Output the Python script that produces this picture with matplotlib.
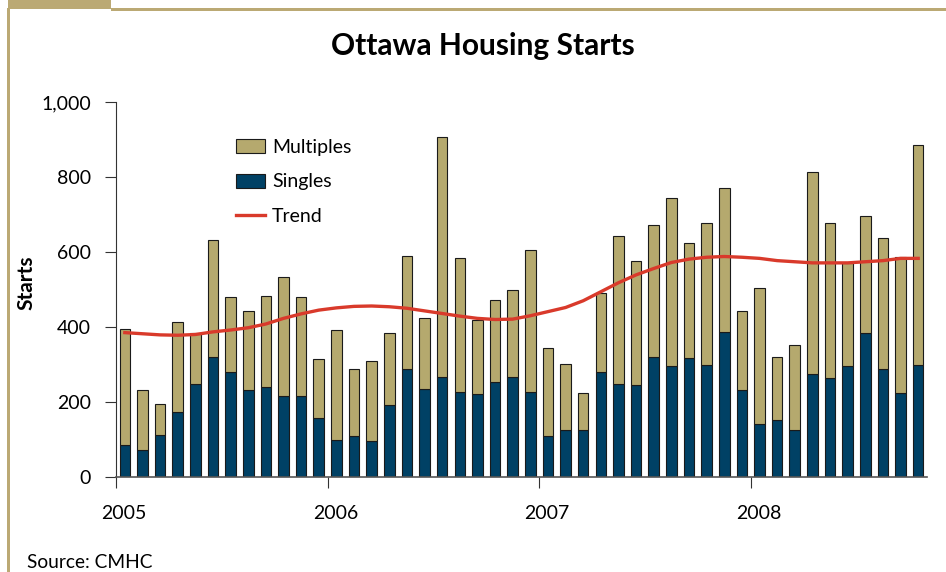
import matplotlib
matplotlib.use("Agg")
import matplotlib.pyplot as plt
from matplotlib.patches import Rectangle
from matplotlib.lines import Line2D
import matplotlib.transforms as mtransforms
import numpy as np

plt.rcParams['font.family'] = ['Lato', 'DejaVu Sans']

# Monthly data, Jan 2005 - Oct 2008
totals = [396, 233, 194, 413, 383, 632, 481, 444, 483, 534, 481, 314,
          392, 289, 309, 385, 590, 425, 907, 585, 420, 472, 500, 605,
          343, 301, 224, 490, 644, 576, 672, 744, 624, 677, 770, 444,
          503, 319, 352, 813, 677, 570, 696, 638, 588, 886]
singles = [85, 71, 113, 174, 247, 320, 279, 233, 241, 217, 217, 158,
           98, 110, 96, 191, 289, 236, 267, 227, 221, 253, 267, 227,
           110, 125, 125, 279, 247, 245, 320, 296, 318, 298, 386, 231,
           142, 151, 126, 276, 264, 296, 383, 289, 225, 298]
trend = [385, 382, 379, 378, 380, 387, 392, 398, 408, 423, 435, 445,
         451, 455, 456, 454, 450, 443, 436, 429, 423, 420, 421, 430,
         441, 452, 470, 494, 518, 539, 556, 572, 581, 586, 588, 586,
         583, 577, 574, 571, 571, 571, 574, 577, 583, 583]
multiples = [t - s for t, s in zip(totals, singles)]
years = ['2005', '2006', '2007', '2008']
yticks = [0, 200, 400, 600, 800, 1000]
ytick_labels = ['0', '200', '400', '600', '800', '1,000']

C_MULT = '#B5A96E'
C_SING = '#004165'
C_TREND = '#D93A2B'
C_FRAME = '#BBA974'

W, H = 946, 572
fig = plt.figure(figsize=(W / 100, H / 100), dpi=100)

# decorative frame
fig.patches.append(Rectangle((8 / W, 1 - 9 / H), 103 / W, 9 / H, transform=fig.transFigure,
                             facecolor=C_FRAME, edgecolor='none'))
fig.patches.append(Rectangle((111 / W, 1 - 10.7 / H), (W - 111) / W, 2.5 / H, transform=fig.transFigure,
                             facecolor=C_FRAME, edgecolor='none'))
fig.patches.append(Rectangle((7 / W, 0), 2.7 / W, 1 - 8 / H, transform=fig.transFigure,
                             facecolor=C_FRAME, edgecolor='none'))

left, right, top, bottom = 116, 927, 102, 477
ax = fig.add_axes([left / W, 1 - bottom / H, (right - left) / W, (bottom - top) / H])

n = len(totals)
x = np.arange(n) + 0.5
bw = 0.6
ax.bar(x, singles, width=bw, color=C_SING, edgecolor='#1a1a1a', linewidth=0.8, label='Singles', zorder=2)
ax.bar(x, multiples, bottom=singles, width=bw, color=C_MULT, edgecolor='#1a1a1a', linewidth=0.8,
       label='Multiples', zorder=2)
ax.plot(x, trend, color=C_TREND, linewidth=2.4, label='Trend', zorder=3)

ax.set_xlim(0, n)
ax.set_ylim(0, 1000)
ax.set_yticks(yticks)
ax.set_yticklabels(ytick_labels)
ax.set_xticks([0, 12, 24, 36])
ax.set_xticklabels(years)
ax.tick_params(axis='y', direction='out', length=8, width=0.8, labelsize=14, pad=10, color='#333333')
ax.tick_params(axis='x', direction='out', length=8, width=0.8, labelsize=14, pad=12.5, color='#333333')
offset = mtransforms.ScaledTranslation(8 / 100, 0, fig.dpi_scale_trans)
for lbl in ax.get_xticklabels():
    lbl.set_transform(lbl.get_transform() + offset)
for s in ['top', 'right']:
    ax.spines[s].set_visible(False)
ax.spines['left'].set_color('#333333')
ax.spines['bottom'].set_color('#555555')
ax.spines['bottom'].set_linewidth(1.2)

ax.set_ylabel('Starts', fontsize=15, fontweight='bold')
ax.yaxis.set_label_coords((36 - left) / (right - left), (bottom - 283) / (bottom - top))

handles = [Rectangle((0, 0), 1, 1, facecolor=C_MULT, edgecolor='#1a1a1a', linewidth=0.8),
           Rectangle((0, 0), 1, 1, facecolor=C_SING, edgecolor='#1a1a1a', linewidth=0.8),
           Line2D([0], [0], color=C_TREND, linewidth=2.4)]
ax.legend(handles, ['Multiples', 'Singles', 'Trend'], loc='upper left',
          bbox_to_anchor=((236 - left) / (right - left), (bottom - 139) / (bottom - top)),
          frameon=False, fontsize=14, borderpad=0, borderaxespad=0,
          handlelength=1.5, handleheight=0.72, labelspacing=0.9, handletextpad=0.36)

fig.text(483 / W, 1 - 46 / H, 'Ottawa Housing Starts', ha='center', va='center',
         fontsize=21.5, fontweight='bold')
fig.text(27 / W, 1 - 562 / H, 'Source: CMHC', ha='left', va='center', fontsize=13.8)

fig.savefig('out.png', dpi=100)
